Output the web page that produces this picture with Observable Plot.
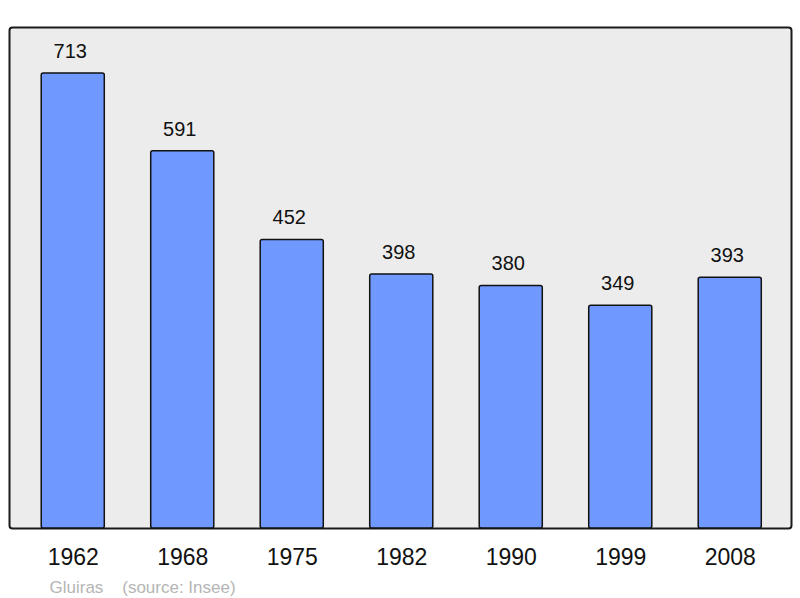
<!DOCTYPE html>
<html>
<head>
<meta charset="utf-8">
<script src="https://cdn.jsdelivr.net/npm/d3@7"></script>
<script src="https://cdn.jsdelivr.net/npm/@observablehq/plot@0.6"></script>
<style>
  html, body { margin: 0; padding: 0; background: #fff; }
  #chart svg { display: block; }
</style>
</head>
<body>
<div id="chart"></div>
<script>
const years = ["1962", "1968", "1975", "1982", "1990", "1999", "2008"];
const population = [713, 591, 452, 398, 380, 349, 393];
const captionText = "Gluiras    (source: Insee)";

const data = years.map((y, i) => ({year: y, value: population[i]}));

const chart = Plot.plot({
  width: 800,
  height: 598,
  marginLeft: 9,
  marginRight: 9,
  marginTop: 27,
  marginBottom: 70,
  style: {fontFamily: "'Liberation Sans', Arial, sans-serif", background: "#fff"},
  x: {domain: years, range: [18, 784.5], paddingInner: 0.424, paddingOuter: 0.212, round: false, label: null},
  y: {domain: [0, 785], axis: null},
  marks: [
    Plot.frame({fill: "#ececec", stroke: "#1a1a1a", strokeWidth: 2, rx: 3}),
    Plot.barY(data, {x: "year", y: "value", fill: "#7099ff", stroke: "#111", strokeWidth: 1.5, rx: 2}),
    Plot.text(data, {x: "year", y: "value", text: d => String(d.value), dy: -22, dx: -3, fontSize: 20, fill: "#111"}),
    Plot.axisX({tickSize: 0, tickPadding: 20, fontSize: 23, fill: "#111", label: null}),
    Plot.text([captionText], {frameAnchor: "bottom-left", dx: 40, dy: 64, fontSize: 17, fill: "#b5b5b5", textAnchor: "start", text: d => d})
  ]
});
document.getElementById("chart").appendChild(chart);
</script>
</body>
</html>
